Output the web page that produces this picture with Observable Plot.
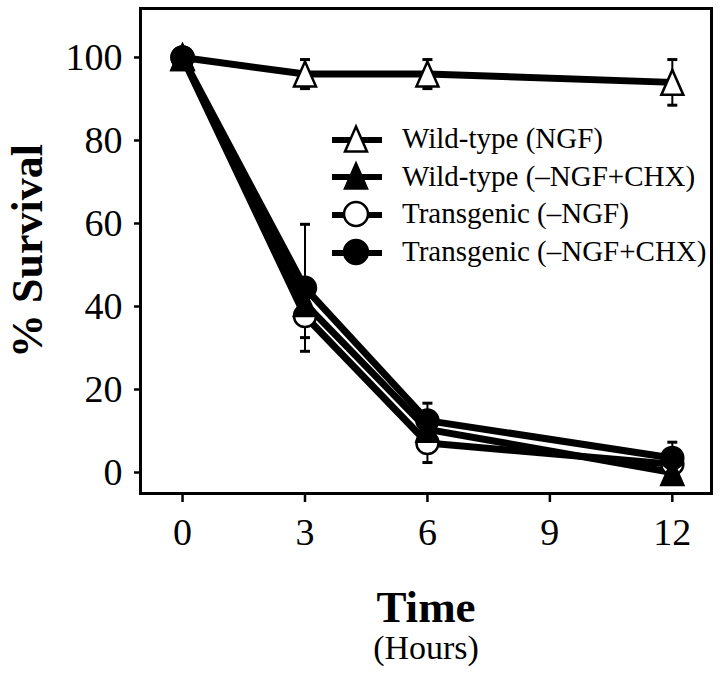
<!DOCTYPE html>
<html><head><meta charset="utf-8">
<script src="https://cdn.jsdelivr.net/npm/d3@7"></script>
<script src="https://cdn.jsdelivr.net/npm/@observablehq/plot@0.6"></script>
<style>
html,body{margin:0;padding:0;background:#fff;}
#wrap{position:relative;width:720px;height:682px;font-family:"Liberation Serif","Times New Roman",serif;color:#000;}
#legend{position:absolute;left:332px;top:120px;}
.row{display:flex;align-items:center;height:37.6px;font-size:29px;white-space:nowrap;line-height:1;}
.row svg{margin-right:20px;display:block;}
</style></head><body><div id="wrap"><div id="legend"></div></div>
<script>
// ---- data ----
const hours = [0, 3, 6, 12];
const seriesNames = ["Wild-type (NGF)", "Wild-type (–NGF+CHX)", "Transgenic (–NGF)", "Transgenic (–NGF+CHX)"];
const wtNGF      = [100, 96, 96, 94];
const wtNGFerr   = [0, 3.5, 3.5, 5.5];
const wtCHX      = [100, 40.7, 10.4, 0];
const wtCHXerr   = [0, 0, 0, 0];
const tgNoNGF    = [100, 37.7, 7.1, 2];
const tgNoNGFerr = [0, 5.2, 4.7, 0];
const tgCHX      = [100, 44.5, 12.5, 3.5];
const tgCHXerr   = [0, 15.3, 4.2, 3.8];
const xTicks = [0, 3, 6, 9, 12];
const yTicks = [0, 20, 40, 60, 80, 100];

// ---- symbols ----
const triangle = {draw(ctx) { const w = 22, h = 25; ctx.moveTo(0, -h / 2); ctx.lineTo(w / 2, h / 2); ctx.lineTo(-w / 2, h / 2); ctx.closePath(); }};
const cap = {draw(ctx) { ctx.moveTo(-5, 0); ctx.lineTo(5, 0); }};

const seriesDefs = [
  {name: seriesNames[0], vals: wtNGF, errs: wtNGFerr, symbol: triangle, fill: "white"},
  {name: seriesNames[2], vals: tgNoNGF, errs: tgNoNGFerr, symbol: "circle", fill: "white"},
  {name: seriesNames[1], vals: wtCHX, errs: wtCHXerr, symbol: triangle, fill: "black"},
  {name: seriesNames[3], vals: tgCHX, errs: tgCHXerr, symbol: "circle", fill: "black"}
];
const rows = seriesDefs.flatMap(s => hours.map((t, i) => ({series: s.name, t, v: s.vals[i], e: s.errs[i]})));
const errRows = rows.filter(d => d.e > 0);

const marks = [
  Plot.line(rows, {x: "t", y: "v", z: "series", stroke: "black", strokeWidth: 7, strokeLinejoin: "round", strokeLinecap: "round"}),
  Plot.ruleX(errRows, {x: "t", y1: d => d.v - d.e, y2: d => d.v + d.e, stroke: "black", strokeWidth: 2}),
  Plot.dot(errRows, {x: "t", y: d => d.v + d.e, symbol: cap, stroke: "black", strokeWidth: 3, fill: "none"}),
  Plot.dot(errRows, {x: "t", y: d => d.v - d.e, symbol: cap, stroke: "black", strokeWidth: 3, fill: "none"})
];
for (const s of seriesDefs) {
  marks.push(Plot.dot(rows.filter(d => d.series === s.name), {
    x: "t", y: "v", symbol: s.symbol, r: s.symbol === "circle" ? 11 : 10,
    fill: s.fill, stroke: "black", strokeWidth: 2.5
  }));
}
marks.push(
  Plot.frame({stroke: "black", strokeWidth: 3}),
  Plot.axisX({ticks: xTicks, tickSize: 9, tickPadding: 16, fontSize: 38, strokeWidth: 2.5, label: null}),
  Plot.axisY({ticks: yTicks, tickSize: 6, tickPadding: 12, fontSize: 38, strokeWidth: 2.5, label: null}),
  Plot.text(["% Survival"], {text: d => d, frameAnchor: "left", textAnchor: "middle", lineAnchor: "middle", dx: -113, rotate: -90, fontSize: 44, fontWeight: "bold"}),
  Plot.text(["Time"], {text: d => d, frameAnchor: "bottom", lineAnchor: "middle", dy: 114, fontSize: 45, fontWeight: "bold"}),
  Plot.text(["(Hours)"], {text: d => d, frameAnchor: "bottom", lineAnchor: "middle", dy: 155, fontSize: 34})
);

const chart = Plot.plot({
  width: 720, height: 682,
  marginLeft: 140, marginRight: 9, marginTop: 8, marginBottom: 189,
  x: {domain: [-1.03, 12.96], label: null},
  y: {domain: [-5.06, 111.8], label: null},
  style: {fontFamily: "'Liberation Serif', 'Times New Roman', serif", color: "black", background: "white", overflow: "visible"},
  marks
});
document.getElementById("wrap").prepend(chart);

// ---- legend ----
const legendDefs = [
  {name: seriesNames[0], symbol: triangle, fill: "white"},
  {name: seriesNames[1], symbol: triangle, fill: "black"},
  {name: seriesNames[2], symbol: d3.symbolCircle, fill: "white"},
  {name: seriesNames[3], symbol: d3.symbolCircle, fill: "black"}
];
const legend = d3.select("#legend");
for (const l of legendDefs) {
  const row = legend.append("div").attr("class", "row");
  const svg = row.append("svg").attr("width", 50).attr("height", 34);
  svg.append("line").attr("x1", 0).attr("x2", 50).attr("y1", 18).attr("y2", 18).attr("stroke", "black").attr("stroke-width", 6);
  svg.append("path").attr("transform", "translate(24,17)")
    .attr("d", d3.symbol().type(l.symbol).size(Math.PI * 144)())
    .attr("fill", l.fill).attr("stroke", "black").attr("stroke-width", 2.5);
  row.append("span").text(l.name);
}
</script>
</body></html>
